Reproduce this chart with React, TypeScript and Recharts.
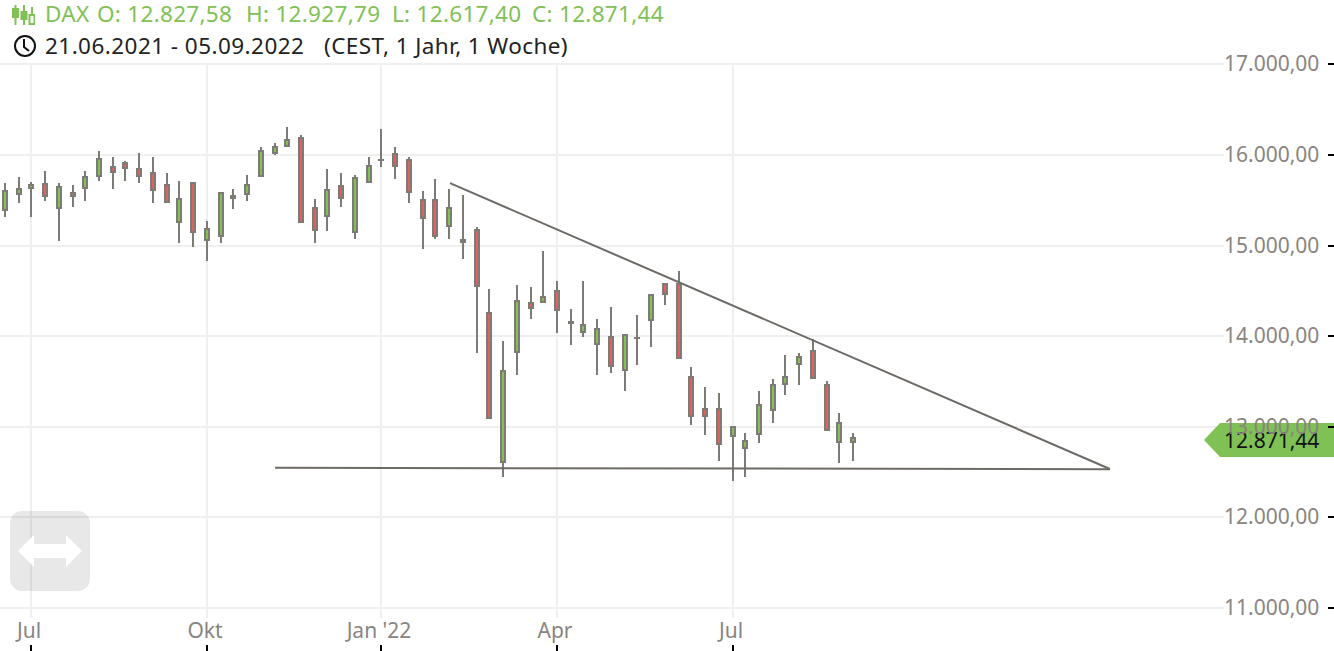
import { Bar, ComposedChart, ReferenceLine, XAxis, YAxis, CartesianGrid } from 'recharts';

const GREEN = '#7fc155';
const RED = '#e0625c';
const EDGE = '#7e7a76';
const GRID = '#efefef';
const AXIS_TEXT = '#888480';
const FONT = '"Noto Sans", sans-serif';

// one candle per week, starting 21.06.2021
const opens = [15392, 15569, 15635, 15674, 15414, 15580, 15635, 15768, 15867, 15912, 15845, 15801, 15668, 15260, 15691, 15061, 15105, 15519, 15569, 15768, 16022, 16097, 16179, 15405, 15324, 15649, 15147, 15699, 15935, 16002, 15936, 15494, 15494, 15213, 15033, 15162, 14256, 12605, 13821, 14367, 14373, 14499, 14145, 14042, 13909, 13991, 13622, 13970, 14175, 14566, 14566, 13549, 13195, 13195, 12893, 12760, 12915, 13180, 13467, 13688, 13836, 13461, 12827, 12827.58];
const closes = [15602, 15624, 15668, 15547, 15646, 15547, 15757, 15956, 15812, 15856, 15768, 15613, 15481, 15514, 15149, 15182, 15580, 15547, 15668, 16044, 16088, 16157, 15257, 15169, 15604, 15523, 15737, 15870, 15944, 15876, 15589, 15302, 15103, 15405, 15055, 14550, 13092, 13615, 14389, 14307, 14433, 14285, 14152, 14124, 14079, 13666, 14013, 13976, 14455, 14462, 13755, 13114, 13114, 12804, 12997, 12842, 13240, 13461, 13549, 13770, 13534, 12959, 13041, 12871.44];
const highs = [15685, 15751, 15702, 15818, 15685, 15663, 15818, 16039, 15972, 15928, 16017, 15972, 15796, 15707, 15702, 15265, 15591, 15619, 15773, 16083, 16127, 16304, 16215, 15508, 15840, 15796, 15770, 15972, 16282, 16083, 15972, 15597, 15729, 15619, 15552, 15199, 14514, 13939, 14558, 14536, 14934, 14602, 14293, 14602, 14182, 14315, 14024, 14226, 14466, 14577, 14713, 13652, 13431, 13365, 13008, 12923, 13387, 13519, 13784, 13807, 13961, 13497, 13144, 12927.79];
const lows = [15313, 15470, 15313, 15492, 15050, 15425, 15492, 15713, 15624, 15713, 15691, 15470, 15470, 15028, 14983, 14829, 15028, 15403, 15492, 15757, 15994, 16086, 15246, 15025, 15158, 15423, 15070, 15688, 15865, 15733, 15467, 14959, 15070, 15070, 14849, 13810, 13081, 12440, 13567, 14186, 14362, 14031, 13898, 13987, 13567, 13589, 13390, 13677, 13876, 14340, 13744, 13014, 12904, 12617, 12395, 12440, 12815, 13036, 13346, 13456, 13523, 12948, 12594, 12617.4];

const monthTicks = [2, 15, 28, 41, 54];
const monthLabels = ['Jul', 'Okt', "Jan '22", 'Apr', 'Jul'];
const priceTicks = [11000, 12000, 13000, 14000, 15000, 16000, 17000];

const lastClose = 12871.44;

// trendlines in week / price
const fallingLine = [
  { x: 33.06, y: 15685 },
  { x: 82.05, y: 12529 },
];
const supportLine = [
  { x: 20.07, y: 12543 },
  { x: 82.05, y: 12527 },
];

const candles = opens.map((open, i) => ({
  week: i,
  open,
  close: closes[i],
  range: [lows[i], highs[i]],
}));

const fmt = (n: number) =>
  n.toLocaleString('de-DE', { minimumFractionDigits: 2, maximumFractionDigits: 2 });

// the original snaps everything to odd pixel columns
const snapX = (x: number) => Math.round((x - 1) / 2) * 2 + 1;

function Candle(props: any) {
  const { x, y, width, height, payload } = props;
  const [low, high] = payload.range;
  const perUnit = height / (high - low);
  const mid = snapX(x + width / 2 - 0.25);
  const top = Math.round(y + (high - Math.max(payload.open, payload.close)) * perUnit);
  const bottom = Math.round(y + (high - Math.min(payload.open, payload.close)) * perUnit);
  const up = payload.close >= payload.open;
  return (
    <g>
      <line x1={mid} x2={mid} y1={Math.round(y)} y2={Math.round(y + height)} stroke={EDGE} strokeWidth={2} />
      <rect
        x={mid - 2}
        y={top}
        width={4}
        height={Math.max(bottom - top, 0.01)}
        fill={up ? GREEN : RED}
        stroke={EDGE}
        strokeWidth={2}
      />
    </g>
  );
}

function VerticalGridLine({ x1, y1, y2 }: any) {
  const x = snapX(x1);
  return <line x1={x} x2={x} y1={y1} y2={y2} stroke={GRID} strokeWidth={2} />;
}

function HorizontalGridLine({ x1, x2, y1 }: any) {
  const y = Math.ceil(y1);
  return <line x1={x1} x2={x2} y1={y} y2={y} stroke={GRID} strokeWidth={2} />;
}

function MonthTick({ x, y, index }: any) {
  const tx = snapX(x);
  return (
    <g>
      <text x={tx - 2} y={y + 12} textAnchor="middle" fontSize={21} fill={AXIS_TEXT} fontFamily={FONT}>
        {monthLabels[index]}
      </text>
      <line x1={tx} x2={tx} y1={y + 19} y2={y + 25} stroke="#000" strokeWidth={2} />
    </g>
  );
}

function PriceTick({ y, payload }: any) {
  const ty = Math.ceil(y);
  return (
    <g>
      <text x={1224} y={ty + 7} fontSize={21} fill={AXIS_TEXT} fontFamily={FONT}>
        {fmt(payload.value)}
      </text>
      <line x1={1328} x2={1334} y1={ty} y2={ty} stroke="#000" strokeWidth={2} />
    </g>
  );
}

function PriceTag({ viewBox }: any) {
  const cy = Math.round(viewBox.y) + 2;
  const points = `1204,${cy} 1220,${cy - 17} 1334,${cy - 17} 1334,${cy + 17} 1220,${cy + 17}`;
  return (
    <g>
      <polygon points={points} fill={GREEN} />
      <text x={1224} y={cy + 7.5} fontSize={21} fill="#111" fontFamily={FONT}>
        {fmt(lastClose)}
      </text>
    </g>
  );
}

function CandleIcon() {
  return (
    <svg width={24} height={24} viewBox="0 0 24 24" style={{ position: 'absolute', left: 11, top: 3 }}>
      <g stroke={GREEN} strokeWidth={2} fill="none">
        <line x1={4.5} x2={4.5} y1={2} y2={22} />
        <rect x={2} y={6} width={5} height={8} fill={GREEN} />
        <line x1={13} x2={13} y1={2} y2={22} />
        <rect x={10.5} y={9} width={5} height={7} fill={GREEN} />
        <line x1={21} x2={21} y1={4} y2={22} />
        <rect x={18.5} y={12} width={5} height={9} fill="#fff" />
      </g>
    </svg>
  );
}

function ClockIcon() {
  return (
    <svg width={24} height={24} viewBox="0 0 24 24" style={{ position: 'absolute', left: 13, top: 34 }}>
      <circle cx={12} cy={12} r={10} stroke="#111" strokeWidth={2} fill="none" />
      <path d="M11 5 V13 L16 17" stroke="#111" strokeWidth={2} fill="none" />
    </svg>
  );
}

function PanButton() {
  return (
    <svg width={80} height={80} viewBox="0 0 80 80" style={{ position: 'absolute', left: 10, top: 511 }}>
      <rect width={80} height={80} rx={12} fill="rgba(0,0,0,0.09)" />
      <path d="M8 40 L24 24 V33 H56 V24 L72 40 L56 56 V47 H24 V56 Z" fill="#fff" />
    </svg>
  );
}

const greenParts = [
  { text: 'DAX', left: 45 },
  { text: 'O: 12.827,58', left: 97 },
  { text: 'H: 12.927,79', left: 246 },
  { text: 'L: 12.617,40', left: 392 },
  { text: 'C: 12.871,44', left: 532 },
];

const headerText = {
  position: 'absolute' as const,
  fontFamily: FONT,
  fontSize: 22.5,
  whiteSpace: 'pre' as const,
  lineHeight: '28px',
};

export default function App() {
  return (
    <div style={{ position: 'absolute', left: 0, top: 0, width: 1334, height: 651, overflow: 'hidden', background: '#fff' }}>
      <ComposedChart
        width={1334}
        height={651}
        data={candles}
        margin={{ top: 64, right: 0, bottom: 0, left: 0 }}
      >
        <CartesianGrid
          verticalValues={monthTicks}
          horizontalValues={priceTicks}
          vertical={(p: any) => <VerticalGridLine key={p.key} {...p} />}
          horizontal={(p: any) => <HorizontalGridLine key={p.key} {...p} />}
        />
        <XAxis
          dataKey="week"
          type="number"
          domain={[-0.349, 90.52]}
          ticks={monthTicks}
          tick={<MonthTick />}
          tickLine={false}
          axisLine={false}
          height={33}
          interval={0}
          allowDataOverflow
        />
        <YAxis
          orientation="right"
          type="number"
          domain={[10884, 17000]}
          ticks={priceTicks}
          tick={<PriceTick />}
          tickLine={false}
          axisLine={false}
          width={110}
          interval={0}
          allowDataOverflow
        />
        <Bar dataKey="range" barSize={6} shape={<Candle />} isAnimationActive={false} />
        <ReferenceLine segment={supportLine} stroke="#6e6a66" strokeWidth={2} />
        <ReferenceLine segment={fallingLine} stroke="#6e6a66" strokeWidth={2} />
        <ReferenceLine y={lastClose} stroke="none" label={<PriceTag />} />
      </ComposedChart>

      <CandleIcon />
      {greenParts.map((p) => (
        <div key={p.left} style={{ ...headerText, left: p.left, top: 0, color: GREEN, letterSpacing: 0.3 }}>
          {p.text}
        </div>
      ))}
      <ClockIcon />
      <div style={{ ...headerText, left: 45, top: 32, color: '#222', letterSpacing: 0.45 }}>
        {'21.06.2021 - 05.09.2022'}
      </div>
      <div style={{ ...headerText, left: 324, top: 32, color: '#222', letterSpacing: 0.4 }}>
        {'(CEST, 1 Jahr, 1 Woche)'}
      </div>
      <PanButton />
    </div>
  );
}
